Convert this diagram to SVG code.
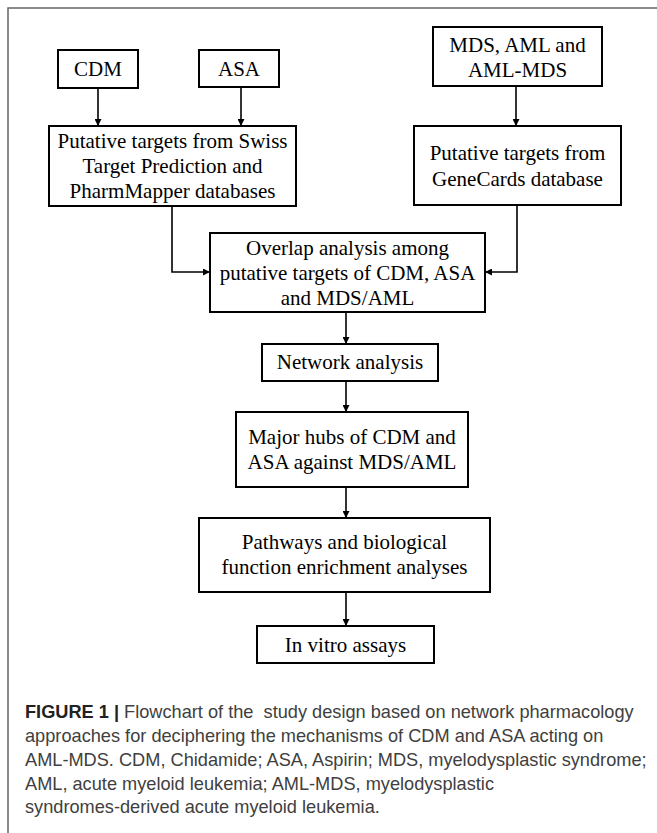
<svg xmlns="http://www.w3.org/2000/svg" width="657" height="833" viewBox="0 0 657 833">
<style>
.box{fill:#fff;stroke:#000;stroke-width:2}
.t{font-family:"Liberation Serif","Times New Roman",serif;font-size:21px;fill:#000;text-anchor:middle}
.c{fill:none;stroke:#000;stroke-width:1.6}
.cap{font-family:"Liberation Sans",Arial,sans-serif;font-size:18.2px;fill:#404040}
.frame{fill:none;stroke:#666;stroke-width:1.5}
</style>
<defs>
<marker id="ah" viewBox="0 0 10 10" refX="10" refY="5" markerWidth="7" markerHeight="7" markerUnits="userSpaceOnUse" orient="auto">
<path d="M0,0 L10,5 L0,10 z" fill="#000"/>
</marker>
</defs>
<path class="frame" d="M657,8 H8 V833"/>
<g id="connectors">
<path class="c" d="M98,88 V126" marker-end="url(#ah)"/>
<path class="c" d="M241,87 V126" marker-end="url(#ah)"/>
<path class="c" d="M516,86 V126" marker-end="url(#ah)"/>
<path class="c" d="M172,206 V272 H210" marker-end="url(#ah)"/>
<path class="c" d="M517,205 V272 H485" marker-end="url(#ah)"/>
<path class="c" d="M346,312 V344" marker-end="url(#ah)"/>
<path class="c" d="M346,381 V412" marker-end="url(#ah)"/>
<path class="c" d="M346,487 V518" marker-end="url(#ah)"/>
<path class="c" d="M346,592 V626" marker-end="url(#ah)"/>
</g>
<g id="cdm"><rect class="box" x="58" y="50" width="80" height="38"/><text class="t" x="98" y="76">CDM</text></g>
<g id="asa"><rect class="box" x="199" y="50" width="80" height="37"/><text class="t" x="239" y="76">ASA</text></g>
<g id="mds"><rect class="box" x="433" y="27" width="169" height="59"/><text class="t" x="517.5" y="52">MDS, AML and</text><text class="t" x="517.5" y="77">AML-MDS</text></g>
<g id="swiss"><rect class="box" x="49" y="126" width="247" height="80"/><text class="t" x="172.5" y="148">Putative targets from Swiss</text><text class="t" x="172.5" y="173">Target Prediction and</text><text class="t" x="172.5" y="198">PharmMapper databases</text></g>
<g id="genecards"><rect class="box" x="414" y="126" width="207" height="79"/><text class="t" x="517.5" y="160">Putative targets from</text><text class="t" x="517.5" y="186">GeneCards database</text></g>
<g id="overlap"><rect class="box" x="210" y="233" width="275" height="79"/><text class="t" x="347.5" y="255">Overlap analysis among</text><text class="t" x="347.5" y="280">putative targets of CDM, ASA</text><text class="t" x="347.5" y="305">and MDS/AML</text></g>
<g id="network"><rect class="box" x="262" y="344" width="176" height="37"/><text class="t" x="350" y="369">Network analysis</text></g>
<g id="hubs"><rect class="box" x="236" y="412" width="232" height="75"/><text class="t" x="352" y="444">Major hubs of CDM and</text><text class="t" x="352" y="469">ASA against MDS/AML</text></g>
<g id="pathways"><rect class="box" x="199" y="518" width="291" height="74"/><text class="t" x="344.5" y="549">Pathways and biological</text><text class="t" x="344.5" y="574">function enrichment analyses</text></g>
<g id="invitro"><rect class="box" x="257" y="626" width="177" height="37"/><text class="t" x="345.5" y="652">In vitro assays</text></g>
<g id="caption">
<text class="cap" x="25" y="718" style="white-space:pre"><tspan font-weight="bold" fill="#222">FIGURE 1 |</tspan> Flowchart of the  study design based on network pharmacology</text>
<text class="cap" x="25" y="742">approaches for deciphering the mechanisms of CDM and ASA acting on</text>
<text class="cap" x="25" y="766">AML-MDS. CDM, Chidamide; ASA, Aspirin; MDS, myelodysplastic syndrome;</text>
<text class="cap" x="25" y="790">AML, acute myeloid leukemia; AML-MDS, myelodysplastic</text>
<text class="cap" x="25" y="813">syndromes-derived acute myeloid leukemia.</text>
</g>
</svg>
